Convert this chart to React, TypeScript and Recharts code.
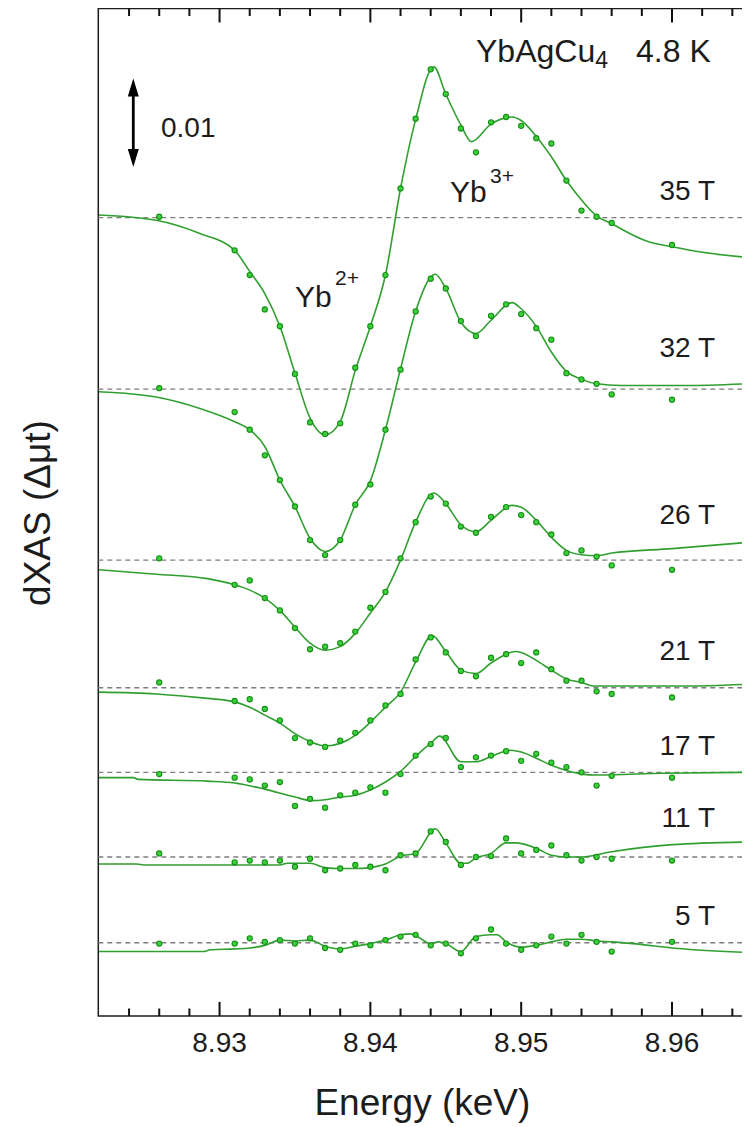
import React from 'react';
import { ComposedChart, Line, Scatter, XAxis, YAxis, ReferenceLine, ReferenceArea } from 'recharts';

// Energies (keV) of measured points
const energies = [8.926, 8.931, 8.932, 8.933, 8.934, 8.935, 8.936, 8.937, 8.938, 8.939, 8.94, 8.941, 8.942, 8.943,
  8.944, 8.945, 8.946, 8.947, 8.948, 8.949, 8.95, 8.951, 8.952, 8.953, 8.954, 8.955, 8.956, 8.96];

// Field labels and vertical offsets of each spectrum (units of 1e-3 Δμt)
const fields = ['35 T', '32 T', '26 T', '21 T', '17 T', '11 T', '5 T'];
const offsets = [90.43, 71.01, 51.64, 37.18, 27.6, 18.01, 8.3];

// Measured dXAS (1e-3 Δμt)
const pts35 = [0.1, -3.7, -6.5, -10.4, -12.3, -17.7, -23.2, -24.5, -23.3, -17.0, -12.3, -6.5, 3.3, 11.2, 16.8, 14.0, 10.1, 7.4, 10.8, 11.4, 10.4, 9.0, 8.4, 4.2, 0.8, 0.1, -0.6, -3.1];
const pts32 = [0.1, -2.6, -4.6, -7.5, -10.3, -13.3, -17.1, -18.8, -17.1, -13.1, -10.8, -4.6, 2.2, 8.8, 12.5, 11.4, 7.7, 6.0, 8.3, 9.6, 8.5, 6.9, 5.6, 1.8, 1.1, 0.6, -0.6, -1.2];
const pts26 = [0.2, -2.8, -2.3, -4.3, -5.7, -7.7, -10.1, -9.8, -9.4, -8.1, -5.4, -3.6, 0.2, 4.3, 7.2, 6.4, 3.8, 3.1, 4.9, 6.0, 5.1, 4.3, 2.9, 0.8, 1.1, 0.4, -0.6, -1.1];
const pts21 = [0.6, -1.5, -1.3, -2.4, -3.7, -5.7, -6.2, -6.7, -6.0, -5.1, -3.7, -2.0, -0.7, 3.2, 5.7, 4.0, 1.9, 1.3, 3.4, 3.8, 2.8, 4.0, 2.1, 0.8, 0.8, -0.4, -0.7, -1.1];
const pts17 = [-0.2, -0.6, -0.8, -1.5, -1.1, -3.8, -3.0, -4.0, -2.6, -2.3, -1.7, -2.3, -0.2, 1.9, 3.2, 3.9, 0.6, 1.7, 1.9, 2.4, 1.3, 2.1, 1.1, 0.6, 0.0, -1.5, -0.4, -0.6];
const pts11 = [0.4, -0.6, -0.4, -0.6, -0.4, -1.1, -0.2, -1.5, -1.3, -0.9, -1.1, -1.5, 0.2, 0.4, 2.9, 1.7, -0.9, 0.0, 0.1, 2.1, 0.4, 0.8, 1.3, 0.2, -0.4, 0.0, -0.2, -0.4];
const pts5 = [-0.1, -0.1, 0.5, 0.1, 0.3, -0.1, 0.5, -0.6, -0.8, -0.1, -0.3, 0.3, 0.7, 0.9, -0.3, -0.1, -1.2, 0.5, 1.5, -0.1, -0.8, -0.3, 0.7, -0.1, 0.9, 0.1, -1.0, 0.1];

// Fit curves [energy, dXAS]
const fit35: [number, number][] = [[8.922, 0.3], [8.9258, -0.3], [8.9287, -1.8], [8.931, -3.7], [8.932, -6.1], [8.933, -8.6], [8.934, -12.3], [8.935, -17.6], [8.936, -22.7], [8.937, -24.6], [8.938, -23.1], [8.939, -17.3], [8.94, -12.3], [8.941, -6.5], [8.942, 3.3], [8.943, 11.1], [8.9442, 17.1], [8.945, 14.0], [8.946, 10.5], [8.9467, 8.6], [8.948, 10.6], [8.9494, 11.4], [8.95, 11.0], [8.951, 9.2], [8.952, 6.9], [8.953, 4.2], [8.954, 2.0], [8.955, 0.2], [8.956, -0.7], [8.9584, -2.7], [8.96, -3.3], [8.9619, -3.9], [8.965, -4.5]];
const fit32: [number, number][] = [[8.922, -0.3], [8.9258, -0.9], [8.9287, -2.2], [8.931, -3.7], [8.932, -4.6], [8.933, -6.5], [8.934, -10.3], [8.935, -13.3], [8.936, -16.9], [8.937, -18.4], [8.938, -17.1], [8.939, -13.1], [8.94, -10.4], [8.941, -4.6], [8.942, 2.3], [8.943, 8.8], [8.9443, 13.0], [8.945, 11.4], [8.946, 7.6], [8.947, 6.3], [8.948, 7.8], [8.9494, 9.8], [8.95, 9.1], [8.951, 7.1], [8.952, 4.2], [8.953, 2.0], [8.954, 1.1], [8.955, 0.6], [8.9566, 0.4], [8.9609, 0.4], [8.965, 0.6]];
const fit26: [number, number][] = [[8.922, -1.1], [8.9258, -1.6], [8.9292, -2.1], [8.931, -2.8], [8.932, -3.4], [8.933, -4.3], [8.934, -5.7], [8.935, -7.6], [8.936, -9.4], [8.937, -10.2], [8.938, -9.8], [8.939, -8.3], [8.94, -6.0], [8.941, -3.6], [8.942, 0.0], [8.943, 4.3], [8.9442, 7.6], [8.945, 6.4], [8.946, 4.0], [8.947, 3.2], [8.948, 4.5], [8.9494, 6.2], [8.95, 6.0], [8.951, 4.5], [8.952, 2.6], [8.953, 1.1], [8.954, 0.6], [8.955, 0.5], [8.956, 0.8], [8.96, 1.3], [8.965, 2.0]];
const fit21: [number, number][] = [[8.922, -0.5], [8.9258, -0.7], [8.9292, -1.2], [8.931, -1.6], [8.932, -2.2], [8.933, -3.1], [8.934, -4.0], [8.935, -5.2], [8.936, -6.1], [8.937, -6.6], [8.938, -6.3], [8.939, -5.4], [8.94, -3.9], [8.941, -2.2], [8.942, -0.5], [8.943, 2.9], [8.9441, 5.9], [8.945, 4.1], [8.946, 2.0], [8.947, 1.6], [8.948, 2.8], [8.9496, 4.1], [8.95, 4.0], [8.951, 3.1], [8.952, 2.0], [8.953, 1.0], [8.954, 0.6], [8.9548, 0.2], [8.9609, 0.2], [8.965, 0.4]];
const fit17: [number, number][] = [[8.922, -0.6], [8.9243, -0.6], [8.9246, -0.8], [8.9292, -1.0], [8.931, -1.2], [8.933, -1.9], [8.935, -2.8], [8.9361, -3.2], [8.937, -3.1], [8.938, -2.8], [8.939, -2.6], [8.94, -2.0], [8.941, -1.1], [8.942, 0.1], [8.943, 1.8], [8.944, 3.3], [8.9446, 4.1], [8.946, 1.2], [8.947, 1.2], [8.948, 1.8], [8.9493, 2.5], [8.95, 2.3], [8.951, 1.6], [8.952, 0.8], [8.953, 0.2], [8.954, -0.2], [8.955, -0.3], [8.9594, -0.1], [8.965, 0.0]];
const fit11: [number, number][] = [[8.922, -0.8], [8.9245, -0.8], [8.925, -0.9], [8.934, -0.9], [8.9345, -0.7], [8.936, -0.7], [8.937, -1.2], [8.938, -1.3], [8.939, -1.3], [8.94, -1.2], [8.941, -0.8], [8.942, 0.1], [8.943, 0.4], [8.9443, 3.2], [8.945, 1.6], [8.946, -0.7], [8.9464, -0.7], [8.947, -0.1], [8.948, 0.4], [8.949, 1.6], [8.9496, 1.6], [8.951, 1.0], [8.952, 0.2], [8.953, 0.0], [8.954, 0.0], [8.956, 0.6], [8.96, 1.4], [8.965, 1.7]];
const fit5: [number, number][] = [[8.922, -1.0], [8.9289, -1.0], [8.9294, -0.8], [8.931, -0.7], [8.932, -0.6], [8.933, -0.3], [8.934, 0.3], [8.935, 0.2], [8.936, 0.3], [8.937, -0.4], [8.938, -0.7], [8.939, -0.4], [8.94, -0.1], [8.941, 0.3], [8.942, 0.9], [8.9426, 1.0], [8.943, 0.8], [8.944, -0.1], [8.9445, 0.1], [8.945, -0.1], [8.946, -1.0], [8.947, 0.7], [8.948, 0.9], [8.9484, 0.9], [8.949, 0.1], [8.95, -0.5], [8.951, -0.3], [8.952, 0.1], [8.953, 0.4], [8.954, 0.4], [8.955, 0.2], [8.956, 0.1], [8.9574, -0.1], [8.96, -0.6], [8.965, -1.1]];

const xTicks = [8.924, 8.926, 8.928, 8.93, 8.932, 8.934, 8.936, 8.938, 8.94, 8.942, 8.944, 8.946, 8.948, 8.95, 8.952, 8.954, 8.956, 8.958, 8.96, 8.962, 8.964];
const majorTicks = [8.93, 8.94, 8.95, 8.96];
const minorTicks = [8.924, 8.926, 8.928, 8.932, 8.934, 8.936, 8.938, 8.942, 8.944, 8.946, 8.948, 8.952, 8.954, 8.956, 8.958, 8.962, 8.964];
const xDomain: [number, number] = [8.92196, 8.96494];
const yDomain: [number, number] = [0, 114.12];

const ptsAll = [pts35, pts32, pts26, pts21, pts17, pts11, pts5];
const fitAll = [fit35, fit32, fit26, fit21, fit17, fit11, fit5];

const spectra = fields.map((f, i) => ({
  name: f,
  pts: energies.map((e, j) => ({ x: e, y: offsets[i] + ptsAll[i][j] })),
  fit: fitAll[i].map(([e, v]) => ({ x: e, y: offsets[i] + v })),
}));

const FONT = '"Liberation Sans", Arial, Helvetica, sans-serif';
const INK = '#1c1c1c';
const TICK = '#111111';
const LINE_GREEN = '#2f9f2f';

const isMajor = (v: number) => Math.abs(v * 100 - Math.round(v * 100)) < 1e-6;
// inward tick lengths in y data units (~14 px major, ~7.5 px minor)
const MAJOR_LEN = 1.6;
const MINOR_LEN = 0.85;

const topTickData = xTicks.map((v) => ({ x: v, y: yDomain[1], major: isMajor(v) }));

const TopTickMark = (props: any) => {
  const { cx, cy } = props;
  if (cx == null || cy == null) return null;
  const major = props.major ?? (props.payload && props.payload.major);
  return <line x1={cx} x2={cx} y1={cy} y2={cy + (major ? 14 : 7.5)} stroke={TICK} strokeWidth={2} />;
};

const BottomTick = (props: any) => {
  const { x, y, payload } = props;
  if (!isMajor(payload.value)) return <g />;
  return (
    <text x={x} y={y + 35.7} textAnchor="middle" fontSize={28} fill={INK} fontFamily={FONT}>
      {payload.value.toFixed(2)}
    </text>
  );
};

const Dot = (props: any) => {
  const { cx, cy } = props;
  if (cx == null || cy == null) return null;
  return <circle cx={cx} cy={cy} r={2.6} fill="#3bd03b" stroke="#158f15" strokeWidth={1.1} />;
};

const ArrowShape = (p: any) => {
  const { x1, y1, x2, y2 } = p;
  const top = Math.min(y1, y2);
  const bot = Math.max(y1, y2);
  const x = x1;
  const hl = 18;
  const hw = 5.5;
  return (
    <g>
      <line x1={x} x2={x2} y1={top + hl - 2} y2={bot - hl + 2} stroke="#000" strokeWidth={2.8} />
      <polygon points={`${x},${top} ${x - hw},${top + hl} ${x + hw},${top + hl}`} fill="#000" />
      <polygon points={`${x},${bot} ${x - hw},${bot - hl} ${x + hw},${bot - hl}`} fill="#000" />
    </g>
  );
};

const labelY = [200, 356.7, 524, 660, 755, 827.3, 925];

const mirrorAxisProps = {
  type: 'number' as const,
  dataKey: 'x',
  domain: xDomain,
  interval: 0 as const,
  mirror: true,
  height: 0,
  axisLine: false,
  tick: false,
  tickLine: { stroke: TICK, strokeWidth: 2 },
  stroke: TICK,
  allowDataOverflow: true,
};

export default function App() {
  return (
    <div style={{ position: 'relative', width: 742, height: 1119, fontFamily: FONT }}>
      <ComposedChart width={742} height={1119} margin={{ top: 0.5, right: 3.5, bottom: 11, left: 90.3 }}>
        <XAxis xAxisId="mbM" orientation="bottom" ticks={majorTicks} tickSize={14} {...mirrorAxisProps} />
        <XAxis xAxisId="mbm" orientation="bottom" ticks={minorTicks} tickSize={7.5} {...mirrorAxisProps} />
        <XAxis xAxisId="mtM" orientation="top" ticks={majorTicks} tickSize={14} {...mirrorAxisProps} />
        <XAxis xAxisId="mtm" orientation="top" ticks={minorTicks} tickSize={7.5} {...mirrorAxisProps} />
        <XAxis xAxisId="b" type="number" dataKey="x" domain={xDomain} ticks={xTicks} interval={0}
          tickSize={0} tickMargin={0} axisLine={false} tickLine={false}
          tick={(p: any) => <BottomTick {...p} />} height={100} allowDataOverflow />
        <YAxis yAxisId="l" type="number" dataKey="y" domain={yDomain} hide allowDataOverflow />
        <ReferenceArea xAxisId="b" yAxisId="l" x1={xDomain[0]} x2={xDomain[1]} y1={yDomain[0]} y2={yDomain[1]}
          fill="none" fillOpacity={0} stroke={INK} strokeWidth={1.5} ifOverflow="visible" />
        {offsets.map((o, i) => (
          <ReferenceLine key={'b' + i} xAxisId="b" yAxisId="l" y={o} stroke="#7d7d7d" strokeWidth={1.4} strokeDasharray="5 4" />
        ))}
        {spectra.map((s) => (
          <Line key={'f' + s.name} xAxisId="b" yAxisId="l" data={s.fit} dataKey="y" type="monotone"
            stroke={LINE_GREEN} strokeWidth={1.6} dot={false} activeDot={false} isAnimationActive={false} />
        ))}
        {spectra.map((s) => (
          <Scatter key={'p' + s.name} xAxisId="b" yAxisId="l" data={s.pts} dataKey="y" shape={<Dot />} isAnimationActive={false} />
        ))}
        <Scatter xAxisId="b" yAxisId="l" data={topTickData} dataKey="y" shape={<TopTickMark />} isAnimationActive={false} />
        {xTicks.map((v) => (
          <ReferenceLine key={'tb' + v} xAxisId="b" yAxisId="l" stroke={TICK} strokeWidth={2}
            segment={[{ x: v, y: yDomain[0] }, { x: v, y: yDomain[0] + (isMajor(v) ? MAJOR_LEN : MINOR_LEN) }]} />
        ))}
        <ReferenceLine xAxisId="b" yAxisId="l" segment={[{ x: 8.92428, y: 96.18 }, { x: 8.92428, y: 106.18 }]}
          shape={(p: any) => <ArrowShape {...p} />} ifOverflow="visible" />
      </ComposedChart>
      <svg width={742} height={1119} style={{ position: 'absolute', left: 0, top: 0, pointerEvents: 'none' }}>
        <g transform="translate(-8,-8)" fontFamily={FONT} fill={INK}>
          <text x={476} y={61.7} fontSize={32}>
            YbAgCu<tspan fontSize={23} dy={6.6}>4</tspan>
          </text>
          <text x={636} y={61.7} fontSize={32}>4.8 K</text>
          <text x={161} y={137.3} fontSize={28}>0.01</text>
          <text x={450} y={201.7} fontSize={30}>Yb</text>
          <text x={490} y={183.3} fontSize={21}>3+</text>
          <text x={295} y={306.7} fontSize={30}>Yb</text>
          <text x={335} y={285} fontSize={21}>2+</text>
          {fields.map((f, i) => (
            <text key={f} x={715} y={labelY[i]} fontSize={28} textAnchor="end">{f}</text>
          ))}
          <text x={422.4} y={1115} fontSize={37} textAnchor="middle">Energy (keV)</text>
          <text transform="translate(50,513) rotate(-90)" fontSize={37} textAnchor="middle">dXAS (Δμt)</text>
        </g>
      </svg>
    </div>
  );
}
